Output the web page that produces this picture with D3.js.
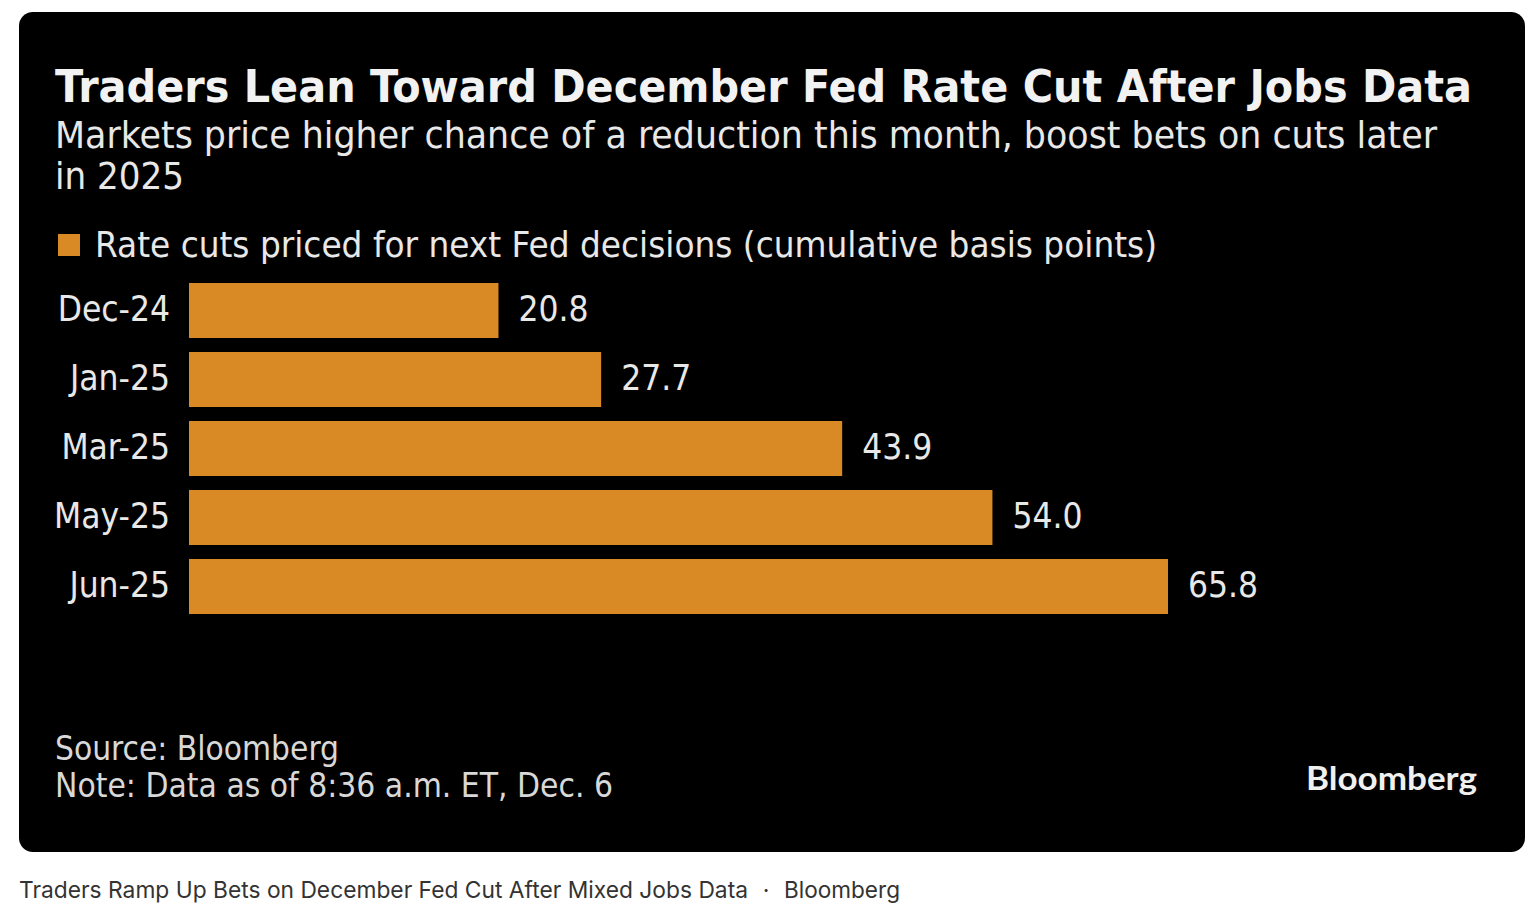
<!DOCTYPE html>
<html>
<head>
<meta charset="utf-8">
<script src="https://cdn.jsdelivr.net/npm/d3@7"></script>
<style>
  html, body { margin: 0; padding: 0; background: #fff; }
  svg { display: block; }
</style>
</head>
<body>
<svg id="chart" width="1534" height="916"></svg>
<script>
const categories = ["Dec-24", "Jan-25", "Mar-25", "May-25", "Jun-25"];
const values = [20.8, 27.7, 43.9, 54.0, 65.8];
const valueLabels = ["20.8", "27.7", "43.9", "54.0", "65.8"];
const titleText = "Traders Lean Toward December Fed Rate Cut After Jobs Data";
const subtitleLines = ["Markets price higher chance of a reduction this month, boost bets on cuts later", "in 2025"];
const legendText = "Rate cuts priced for next Fed decisions (cumulative basis points)";
const sourceText = "Source: Bloomberg";
const noteText = "Note: Data as of 8:36 a.m. ET, Dec. 6";
const logoText = "Bloomberg";
const captionText = "Traders Ramp Up Bets on December Fed Cut After Mixed Jobs Data";
const captionSource = "Bloomberg";

const BAR = "#d98a25";
const TXT = "#e8e8e8";
const FONT = "'DejaVu Sans Condensed', 'DejaVu Sans', sans-serif";

const svg = d3.select("#chart");

function fit(sel, w) {
  const n = sel.node();
  const cur = n.getComputedTextLength();
  if (Math.abs(cur - w) > 1) sel.attr("textLength", w).attr("lengthAdjust", "spacingAndGlyphs");
  return sel;
}

// panel
svg.append("rect").attr("x", 19).attr("y", 12).attr("width", 1506).attr("height", 840)
  .attr("rx", 14).attr("fill", "#000");

// title
fit(svg.append("text").attr("x", 55).attr("y", 102)
  .style("font-family", FONT).style("font-weight", "bold").style("font-size", "44px")
  .attr("fill", "#f2f2f2").text(titleText), 1417);

// subtitle
fit(svg.append("text").attr("x", 55).attr("y", 148)
  .style("font-family", FONT).style("font-size", "38px").attr("fill", TXT).text(subtitleLines[0]), 1382);
svg.append("text").attr("x", 55).attr("y", 189)
  .style("font-family", FONT).style("font-size", "38px").attr("fill", TXT).text(subtitleLines[1]);

// legend
svg.append("rect").attr("x", 58).attr("y", 234).attr("width", 22).attr("height", 22).attr("fill", BAR);
fit(svg.append("text").attr("x", 95).attr("y", 257)
  .style("font-family", FONT).style("font-size", "35px").attr("fill", TXT).text(legendText), 1062);

// scales
const x = d3.scaleLinear().domain([0, 65.8]).range([189, 1168]);
const y = d3.scaleBand().domain(categories).range([283, 614]).paddingInner(14 / 69).paddingOuter(0);

const data = categories.map((c, i) => ({ c, v: values[i], l: valueLabels[i] }));

svg.append("g").selectAll("rect").data(data).join("rect")
  .attr("x", x(0)).attr("y", d => y(d.c))
  .attr("width", d => x(d.v) - x(0)).attr("height", y.bandwidth())
  .attr("fill", BAR);

// category axis
const yAxis = svg.append("g").attr("transform", "translate(189,0)")
  .call(d3.axisLeft(y).tickSize(0).tickPadding(19));
yAxis.select(".domain").remove();
yAxis.selectAll("text").style("font-family", FONT).style("font-size", "35px").attr("fill", TXT)
  .attr("dy", "0.3em");

// value labels
svg.append("g").selectAll("text").data(data).join("text")
  .attr("x", d => x(d.v) + 20).attr("y", d => y(d.c) + y.bandwidth() / 2)
  .attr("dy", "0.3em")
  .style("font-family", FONT).style("font-size", "35px").attr("fill", TXT)
  .text(d => d.l);

// footer
fit(svg.append("text").attr("x", 55).attr("y", 760)
  .style("font-family", FONT).style("font-size", "34px").attr("fill", "#d8d8d8").text(sourceText), 284);
fit(svg.append("text").attr("x", 55).attr("y", 797)
  .style("font-family", FONT).style("font-size", "34px").attr("fill", "#d8d8d8").text(noteText), 558);

fit(svg.append("text").attr("x", 1306).attr("y", 790)
  .style("font-family", "Lato, 'Open Sans', sans-serif").style("font-weight", "bold").style("font-size", "32px")
  .attr("fill", "#f0f0f0").text(logoText), 171);

// caption
fit(svg.append("text").attr("x", 19).attr("y", 898)
  .style("font-family", "Inter, Roboto, sans-serif").style("font-size", "23px").attr("fill", "#333")
  .text(captionText), 729);
svg.append("text").attr("x", 766).attr("y", 898).attr("text-anchor", "middle")
  .style("font-family", "Inter, Roboto, sans-serif").style("font-size", "23px").attr("fill", "#333").text("·");
fit(svg.append("text").attr("x", 784).attr("y", 898)
  .style("font-family", "Inter, Roboto, sans-serif").style("font-size", "23px").attr("fill", "#333")
  .text(captionSource), 116);
</script>
</body>
</html>
